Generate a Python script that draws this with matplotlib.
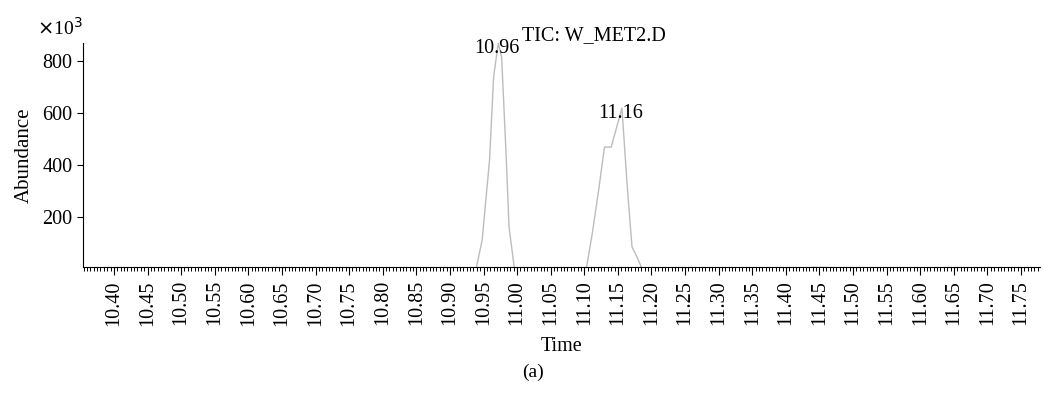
import matplotlib.pyplot as plt
from matplotlib.ticker import MultipleLocator

plt.rcParams['font.family'] = ['Liberation Serif', 'DejaVu Serif']

# chromatogram (time in min, abundance in x10^3)
tempo = [10.354, 10.939, 10.948, 10.959, 10.965, 10.972, 10.977, 10.984, 10.988, 10.996,
         11.103, 11.112, 11.122, 11.130, 11.140, 11.156, 11.164, 11.171, 11.179, 11.186,
         11.420, 11.440, 11.460, 11.500, 11.540, 11.580, 11.600, 11.775]
abund = [0, 0, 111, 419, 738, 869, 815, 419, 161, 0,
         0, 138, 315, 469, 469, 619, 315, 85, 42, 0,
         0, 6, 5, 3, 4, 3, 0, 0]

picos = [(10.972, 869, "10.96"), (11.156, 619, "11.16")]
ticks_y = [200, 400, 600, 800]
ticks_x = [10.40 + 0.05 * i for i in range(28)]

fig = plt.figure(figsize=(10.43, 4.0), dpi=100)
ax = fig.add_axes([0.0796, 0.3325, 0.9174, 0.56])

ax.plot(tempo, abund, color="#bcbcbc", lw=1.0)

ax.set_xticks(ticks_x)
ax.set_xticklabels([f"{v:.2f}" for v in ticks_x], rotation=90)
ax.xaxis.set_minor_locator(MultipleLocator(0.005))
ax.set_yticks(ticks_y)
ax.set_xlim(10.354, 11.778)
ax.set_ylim(7, 870)
ax.tick_params(axis="both", labelsize=14.5, direction="out", width=0.8)
ax.tick_params(axis="x", which="major", length=6)
ax.tick_params(axis="x", which="minor", length=3, width=0.7)
ax.tick_params(axis="y", length=4)
ax.spines["top"].set_visible(False)
ax.spines["right"].set_visible(False)

for x, y, txt in picos:
    ax.annotate(txt, (x, y), xytext=(-1, -4), textcoords="offset points",
                ha="center", va="center", fontsize=14.5)

ax.set_xlabel("Time", fontsize=14.5, labelpad=8)
ax.set_ylabel("Abundance", fontsize=15, labelpad=6)

fig.text(0.5005, 0.912, "TIC: W_MET2.D", fontsize=14.5, ha="left", va="center")
fig.text(0.035, 0.93, r"$\times$10$^3$", fontsize=14, ha="left", va="center")
fig.text(0.511, 0.068, "(a)", fontsize=14, ha="center", va="center")

fig.savefig("out.png", dpi=100)
